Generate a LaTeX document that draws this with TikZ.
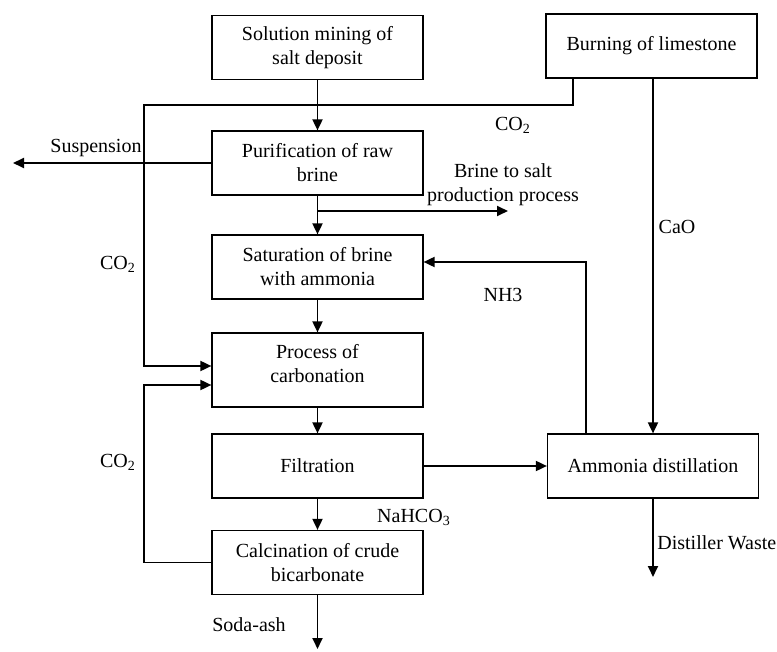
\documentclass[tikz,border=0pt]{standalone}
\usepackage{fontspec}
\setmainfont{Liberation Serif}
\usetikzlibrary{arrows.meta, positioning, calc}

\begin{document}
\begin{tikzpicture}[x=0.5pt, y=-0.5pt,
    every node/.style={font=\fontsize{10}{12}\selectfont},
    stage/.style={draw, line width=0.6pt, minimum width=105.5pt, minimum height=32pt, align=center, inner sep=2pt},
    flow/.style={line width=0.9pt, -{Triangle[length=5.5pt, width=5pt]}}]
    \useasboundingbox (0,0) rectangle (777,652);

    % Process stages
    \node[stage] (mining) at (317.5,47.5) {Solution mining of\\salt deposit};
    \node[stage] (burning) at (651.5,46) {Burning of limestone};
    \node[stage] (purif) at (317.5,163) {Purification of raw\\brine};
    \node[stage] (satur) at (317.5,267) {Saturation of brine\\with ammonia};
    \node[stage, minimum height=37pt, text depth=7pt] (carbon) at (317.5,370) {Process of\\carbonation};
    \node[stage] (filter) at (317.5,466) {Filtration};
    \node[stage] (calcin) at (317.5,562.5) {Calcination of crude\\bicarbonate};
    \node[stage] (distil) at (653,466) {Ammonia distillation};

    % Bends and free ends
    \coordinate (co2a) at (573,105);
    \coordinate (co2b) at (144,105);
    \coordinate (co2c) at (144,366);
    \coordinate (recyc) at (144,385);
    \coordinate (susp) at (13,163);
    \coordinate (brtap) at (317.5,211);
    \coordinate (brout) at (508,211);
    \coordinate (nh3) at (586,262);
    \coordinate (waste) at (653,577);
    \coordinate (soda) at (317.5,649);

    % Main brine line
    \draw[flow] (mining) -- (purif);
    \draw[flow] (purif) -- (satur);
    \draw[flow] (satur) -- (carbon);
    \draw[flow] (carbon) -- (filter);
    \draw[flow] (filter) -- (calcin);
    \draw[flow] (calcin) -- (soda);

    % Side streams
    \draw[flow] (purif.west) -- (susp);
    \draw[flow] (brtap) -- (brout);
    \draw[flow] (filter) -- (distil);
    \draw[flow] (distil) -- (waste);

    % CO2 from the kiln
    \draw[flow] (burning.south -| co2a) -- (co2a) -- (co2b) -- (co2c) -- (co2c -| carbon.west);

    % CO2 from calcination
    \draw[flow] (calcin.west) -- (calcin.west -| recyc) -- (recyc) -- (recyc -| carbon.west);

    % CaO and NH3 loops
    \draw[flow] (burning.south -| distil.north) -- (distil.north);
    \draw[flow] (distil.north -| nh3) -- (nh3) -- (nh3 -| satur.east);

    % Stream labels
    \node (lsusp) at (96,148) {Suspension};
    \node (lco2top) at (513,125) {CO\textsubscript{2}};
    \node (lco2a) at (118,264) {CO\textsubscript{2}};
    \node (lco2b) at (118,462) {CO\textsubscript{2}};
    \node[align=center] (lbrine) at (503,185) {Brine to salt\\production process};
    \node (lnh3) at (503,295) {NH3};
    \node (lcao) at (677,227) {CaO};
    \node (lnahco3) at (414,517) {NaHCO\textsubscript{3}};
    \node (lsoda) at (249,625) {Soda-ash};
    \node[anchor=west, inner sep=0.5pt] (lwaste) at (656,543) {Distiller Waste};
\end{tikzpicture}
\end{document}
